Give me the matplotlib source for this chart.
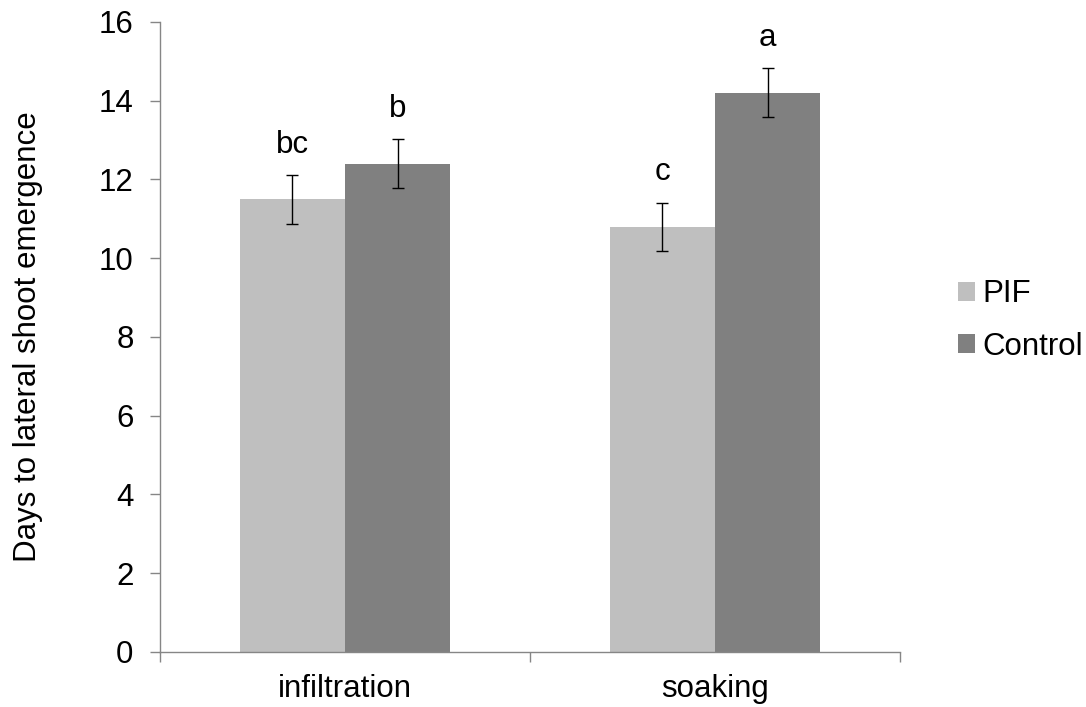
import matplotlib
matplotlib.use("Agg")
import matplotlib.pyplot as plt
import numpy as np

plt.rcParams['font.family'] = ['Liberation Sans', 'DejaVu Sans']

categories = ["infiltration", "soaking"]
series_names = ["PIF", "Control"]
pif_values = [11.5, 10.8]
control_values = [12.4, 14.2]
pif_err = [0.62, 0.61]
control_err = [0.62, 0.62]
pif_letters = ["bc", "c"]
control_letters = ["b", "a"]
yticks = [0, 2, 4, 6, 8, 10, 12, 14, 16]

fig = plt.figure(figsize=(10.86, 7.07), dpi=100)
ax = fig.add_axes([0.1473, 0.0778, 0.6814, 0.8911])

x = np.arange(len(categories))
w = 0.285
fs = 22.5
axis_col = "#868686"

b1 = ax.bar(x - w/2, pif_values, w, color="#BFBFBF", label=series_names[0], zorder=2)
b2 = ax.bar(x + w/2, control_values, w, color="#808080", label=series_names[1], zorder=2)
ax.errorbar(x - w/2, pif_values, yerr=pif_err, fmt="none", ecolor="black",
            elinewidth=1.0, capsize=4.3, capthick=1.0, zorder=3)
ax.errorbar(x + w/2, control_values, yerr=control_err, fmt="none", ecolor="black",
            elinewidth=1.0, capsize=4.3, capthick=1.0, zorder=3)

for xi, v, e, lab in zip(x - w/2, pif_values, pif_err, pif_letters):
    ax.annotate(lab, (xi, v + e), xytext=(0, 16), textcoords="offset points",
                ha="center", va="baseline", fontsize=fs)
for xi, v, e, lab in zip(x + w/2, control_values, control_err, control_letters):
    ax.annotate(lab, (xi, v + e), xytext=(0, 16), textcoords="offset points",
                ha="center", va="baseline", fontsize=fs)

ax.set_xlim(-0.5, len(categories) - 0.5)
ax.set_ylim(0, 16)
ax.set_yticks(yticks)
ax.set_yticklabels([str(t) for t in yticks], fontsize=fs)
ax.set_xticks(x)
ax.set_xticklabels(categories, fontsize=fs)
ax.tick_params(axis="x", length=0, pad=16)
ax.tick_params(axis="y", length=7, color=axis_col, width=1, pad=12)
# category boundary ticks
ax.set_xticks(np.arange(len(categories) + 1) - 0.5, minor=True)
ax.tick_params(axis="x", which="minor", length=7, color=axis_col, width=1, direction="out")

for s in ["top", "right"]:
    ax.spines[s].set_visible(False)
for s in ["left", "bottom"]:
    ax.spines[s].set_color(axis_col)
    ax.spines[s].set_linewidth(1)

ax.set_ylabel("Days to lateral shoot emergence", fontsize=fs, labelpad=40)

leg = ax.legend(handles=[b1, b2], loc="center left", bbox_to_anchor=(1.061, 0.526),
                frameon=False, fontsize=fs, handlelength=0.55, handleheight=0.55,
                handletextpad=0.25, labelspacing=0.72, borderaxespad=0)

fig.savefig("out.png", dpi=100)
